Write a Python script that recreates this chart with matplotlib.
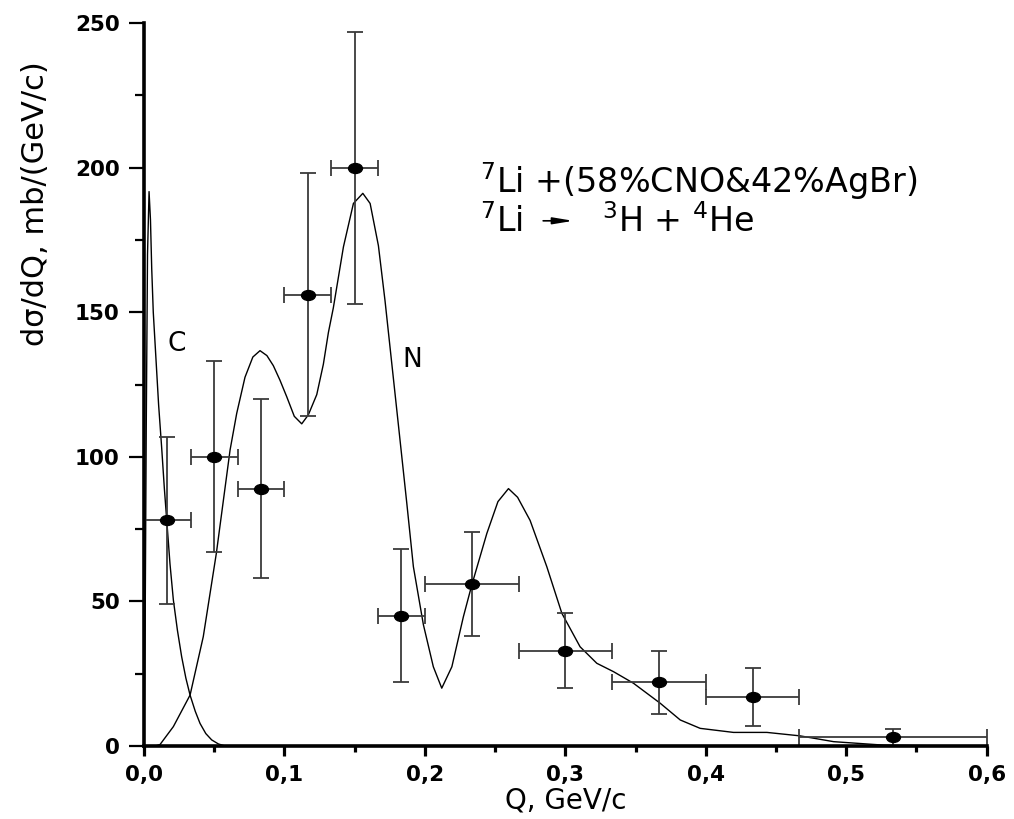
import numpy as np
import matplotlib
matplotlib.use("Agg")
import matplotlib.pyplot as plt
from matplotlib.path import Path
from matplotlib.transforms import Affine2D
from matplotlib.ticker import MultipleLocator, FuncFormatter

# measured points: bin centres, bin edges, cross section and its error
q = [0.0167, 0.05, 0.0833, 0.1167, 0.15, 0.1833, 0.2333, 0.3, 0.3667, 0.4333, 0.5333]
q_lo = [0.0, 0.0333, 0.0667, 0.1, 0.1333, 0.1667, 0.2, 0.2667, 0.3333, 0.4, 0.4667]
q_hi = [0.0333, 0.0667, 0.1, 0.1333, 0.1667, 0.2, 0.2667, 0.3333, 0.4, 0.4667, 0.6]
dsig = [78, 100, 89, 156, 200, 45, 56, 33, 22, 17, 3]
dsig_err = [29, 33, 31, 42, 47, 23, 18, 13, 11, 10, 3]

# C curve
c_q = [0.0, 0.0008, 0.0016, 0.0025, 0.0036, 0.0046, 0.0055, 0.0066, 0.0085, 0.0104,
       0.0126, 0.0145, 0.0162, 0.0185, 0.0209, 0.0238, 0.0268, 0.0298, 0.0328, 0.0365,
       0.0399, 0.044, 0.0482, 0.053, 0.0577, 0.065]
c_y = [0.0, 40, 110, 170, 191.7, 182, 165, 150, 134, 118,
       103, 89, 78, 63, 50.5, 40, 30.9, 23.5, 17.6, 12,
       7.8, 4.3, 2.1, 0.7, 0.0, 0.0]

# N curve
n_q = [0.0, 0.008, 0.0114, 0.0209, 0.0328, 0.0422, 0.0515, 0.0613, 0.066, 0.0719,
       0.0775, 0.0826, 0.0875, 0.0921, 0.0968, 0.1016, 0.107, 0.1123, 0.117, 0.123,
       0.1277, 0.1313, 0.1348, 0.142, 0.1491, 0.1558, 0.161, 0.1669, 0.1716, 0.1767,
       0.1818, 0.1871, 0.1918, 0.1989, 0.206, 0.212, 0.2192, 0.2274, 0.2334, 0.2441,
       0.252, 0.2595, 0.266, 0.2749, 0.2868, 0.2975, 0.3105, 0.3224, 0.3343, 0.3485,
       0.3675, 0.3818, 0.396, 0.4197, 0.4435, 0.4672, 0.491, 0.5266, 0.574, 0.6]
n_y = [0.0, 0.0, 0.5, 6.7, 17.6, 37.8, 66.6, 102.4, 115, 127.5,
       134.5, 136.7, 135, 131.5, 126.5, 120.8, 114, 111.4, 114.5, 121.5,
       132, 143, 151.5, 172.6, 187.6, 191.1, 187.6, 173, 154, 131,
       108, 84, 62, 42, 27.4, 20, 27.4, 44.7, 55.7, 73.5,
       84.5, 89, 86, 78, 62, 45.9, 34.3, 28.6, 25.7, 21.7,
       14.8, 9, 6.1, 4.7, 4.7, 3.5, 1.5, 0.3, 0.0, 0.0]

fig = plt.figure(figsize=(10.14, 8.19), dpi=100)
ax = fig.add_axes([144 / 1014, 1 - 746 / 819, 842.7 / 1014, 723 / 819])

ax.plot(c_q, c_y, color="black", lw=1.0)
ax.plot(n_q, n_y, color="black", lw=1.0)

q_arr = np.array(q)
xerr = [q_arr - np.array(q_lo), np.array(q_hi) - q_arr]
dot = Path.unit_circle().transformed(Affine2D().scale(1.4, 1.0))
ax.errorbar(q, dsig, yerr=dsig_err, xerr=xerr, fmt="none", ecolor="#3a3a3a",
            elinewidth=1.3, capsize=5.5, capthick=1.3)
ax.plot(q, dsig, ls="none", marker=dot, ms=10, color="black")

ax.set_xlim(0, 0.6)
ax.set_ylim(0, 250)
for s in ("top", "right"):
    ax.spines[s].set_visible(False)
for s in ("left", "bottom"):
    ax.spines[s].set_linewidth(2.6)

ax.xaxis.set_major_locator(MultipleLocator(0.1))
ax.xaxis.set_minor_locator(MultipleLocator(0.05))
ax.yaxis.set_major_locator(MultipleLocator(50))
ax.yaxis.set_minor_locator(MultipleLocator(25))
ax.xaxis.set_major_formatter(FuncFormatter(lambda v, p: f"{v:.1f}".replace(".", ",")))
ax.tick_params(axis="x", which="major", direction="out", length=7.5, width=2.3, pad=6)
ax.tick_params(axis="x", which="minor", direction="out", length=4.5, width=2.3)
ax.tick_params(axis="y", which="major", direction="out", length=10.5, width=1.6, pad=7)
ax.tick_params(axis="y", which="minor", direction="out", length=6.5, width=1.6)
for lab in ax.get_xticklabels() + ax.get_yticklabels():
    lab.set_fontsize(15.5)
    lab.set_fontweight("bold")

ax.set_xlabel("Q, GeV/c", fontsize=20, labelpad=1)
ax.set_ylabel("dσ/dQ, mb/(GeV/c)", fontsize=22)
ax.yaxis.set_label_coords(-0.112, 0.75)

ax.text(0.0233, 139, "C", fontsize=19, ha="center", va="center")
ax.text(0.191, 133.3, "N", fontsize=19, ha="center", va="center")

ax.text(0.2393, 191.2, r"$^{7}$Li +(58%CNO&42%AgBr)", fontsize=24, va="baseline")
ax.text(0.2393, 177.7, r"$^{7}$Li", fontsize=24, va="baseline")
ax.annotate("", xy=(0.3056, 181.6), xytext=(0.2842, 181.6),
            arrowprops=dict(arrowstyle="-|>,head_length=1.2,head_width=0.2",
                            color="black", lw=1.2, shrinkA=0, shrinkB=0))
ax.text(0.326, 177.7, r"$^{3}$H + $^{4}$He", fontsize=24, va="baseline")

fig.savefig("out.png", dpi=100)
